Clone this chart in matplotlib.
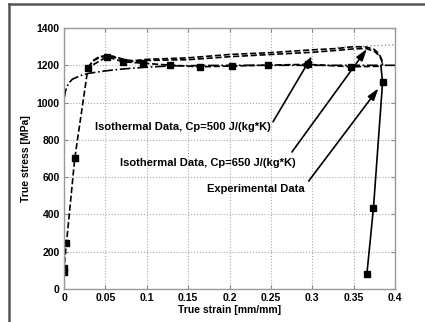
import matplotlib
matplotlib.use("Agg")
import matplotlib.pyplot as plt
from matplotlib.lines import Line2D

plt.rcParams["font.family"] = ["Liberation Sans", "DejaVu Sans"]

# experimental data (squares)
exp_strain = [0.0, 0.0, 0.003, 0.013, 0.029, 0.052, 0.071, 0.096, 0.128, 0.164,
              0.203, 0.246, 0.295, 0.347, 0.383]
exp_stress = [90, 115, 248, 701, 1187, 1246, 1219, 1211, 1201, 1192,
              1196, 1201, 1205, 1192, 1195]
drop_strain = [0.383, 0.385, 0.374, 0.366]
drop_stress = [1195, 1109, 436, 79]

# isothermal simulations
iso_strain = [0.029, 0.035, 0.042, 0.05, 0.058, 0.066, 0.075, 0.085, 0.1, 0.15,
              0.2, 0.25, 0.3, 0.33, 0.35, 0.365, 0.375, 0.381, 0.384, 0.385]
iso500 = [1187, 1225, 1245, 1252, 1250, 1240, 1228, 1225, 1232, 1240,
          1258, 1268, 1283, 1290, 1300, 1298, 1285, 1260, 1230, 1200]
iso650 = [1187, 1222, 1240, 1248, 1246, 1236, 1224, 1220, 1226, 1230,
          1246, 1258, 1270, 1280, 1288, 1290, 1275, 1252, 1225, 1200]

# model curve (dash-dot)
mod_strain = [0, 0.002, 0.005, 0.01, 0.02, 0.03, 0.05, 0.07, 0.1, 0.13, 0.2, 0.3, 0.4]
mod_stress = [1020, 1065, 1100, 1125, 1145, 1157, 1170, 1180, 1190, 1197, 1200, 1200, 1200]

# dotted extension
dot_strain = [0.33, 0.36, 0.4]
dot_stress = [1296, 1302, 1310]

fig = plt.figure(figsize=(4.25, 3.22), dpi=100)
ax = fig.add_axes([0.1506, 0.1025, 0.7788, 0.8105])

ax.plot(dot_strain, dot_stress, ":", color="#999999", lw=1.0)
ax.plot(mod_strain, mod_stress, "-.", color="black", lw=1.2)
ax.plot(iso_strain, iso500, "--", color="black", lw=1.2)
ax.plot(iso_strain, iso650, "--", color="black", lw=1.2)
ax.plot(exp_strain, exp_stress, "--", color="black", lw=1.2,
        marker="s", ms=4, mfc="black", mec="black",
        markevery=list(range(len(exp_strain) - 1)))
ax.plot(drop_strain, drop_stress, "-", color="black", lw=1.2)
ax.plot(drop_strain[1:], drop_stress[1:], "s", color="black", ms=4)

ax.set_xlim(0, 0.4)
ax.set_ylim(0, 1400)
ax.set_xticks([0, 0.05, 0.1, 0.15, 0.2, 0.25, 0.3, 0.35, 0.4])
ax.set_xticklabels(["0", "0.05", "0.1", "0.15", "0.2", "0.25", "0.3", "0.35", "0.4"])
ax.set_yticks(range(0, 1401, 200))
ax.grid(True, linestyle=":", color="#aaaaaa", lw=0.8)
ax.tick_params(direction="in", length=3, color="#888888", labelsize=7.5,
               top=True, right=True, pad=3)
for lab in ax.get_xticklabels() + ax.get_yticklabels():
    lab.set_fontweight("bold")
for s in ax.spines.values():
    s.set_color("#999999")
    s.set_linewidth(1.0)

ax.set_xlabel("True strain [mm/mm]", fontsize=7.5, fontweight="bold", labelpad=1)
ax.set_ylabel("True stress [MPa]", fontsize=7.5, fontweight="bold", labelpad=4)

txt = dict(fontsize=8, fontweight="bold", va="center", ha="left")
ax.text(0.0375, 869, "Isothermal Data, Cp=500 J/(kg*K)", **txt)
ax.text(0.0677, 676, "Isothermal Data, Cp=650 J/(kg*K)", **txt)
ax.text(0.1728, 536, "Experimental Data", **txt)

arrow = dict(arrowstyle="-|>,head_width=0.22,head_length=0.7", color="black",
             lw=1.2, mutation_scale=10, shrinkA=0, shrinkB=0)
ax.annotate("", xy=(0.2997, 1250), xytext=(0.2526, 897), arrowprops=arrow)
ax.annotate("", xy=(0.366, 1288), xytext=(0.2755, 735), arrowprops=arrow)
ax.annotate("", xy=(0.380, 1076), xytext=(0.2957, 579), arrowprops=arrow)

# outer frame
fig.add_artist(Line2D([9 / 425, 9 / 425], [0, 1 - 4 / 322], color="#555555", lw=1.8))
fig.add_artist(Line2D([9 / 425, 1], [1 - 4 / 322, 1 - 4 / 322], color="#555555", lw=1.8))

fig.savefig("out.png", dpi=100)
